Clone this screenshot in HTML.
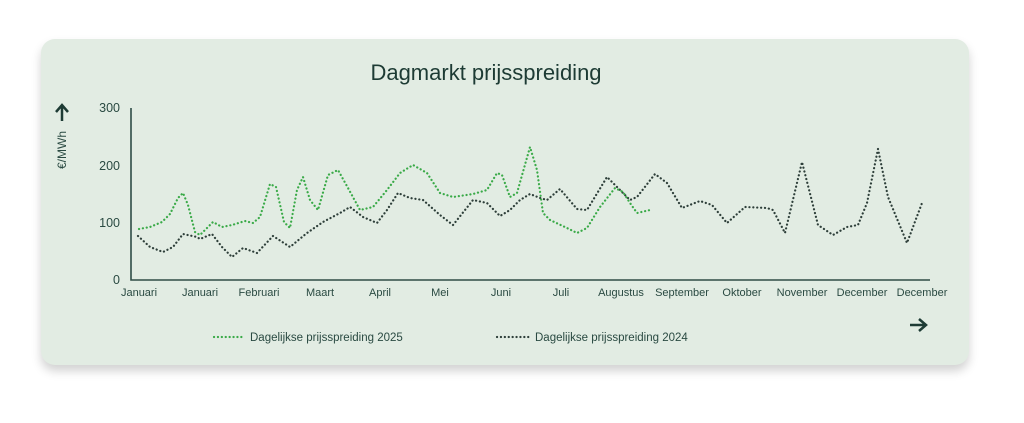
<!DOCTYPE html><html><head><style>
body{margin:0;background:#fff;width:1024px;height:423px;overflow:hidden;font-family:"Liberation Sans",sans-serif}
.card{position:absolute;left:41px;top:39px;width:928px;height:326px;background:#e2ece3;border-radius:14px;box-shadow:0 6px 10px rgba(0,0,0,0.18)}
</style></head><body><div class="card"></div>
<svg width="1024" height="423" style="position:absolute;left:0;top:0" font-family="Liberation Sans, sans-serif">
<text x="486" y="80" text-anchor="middle" font-size="22" fill="#1d3b34">Dagmarkt prijsspreiding</text>
<text transform="translate(66,150) rotate(-90)" text-anchor="middle" font-size="12" fill="#2a4a42">€/MWh</text>
<path d="M62 121V106M56 112L62 105L68 112" stroke="#1d3b34" stroke-width="2.5" fill="none"/>
<path d="M910 325H925M919 319L926 325L919 331" stroke="#1d3b34" stroke-width="2.5" fill="none"/>
<g font-size="12.5" fill="#2a4a42" text-anchor="end"><text x="120" y="112">300</text><text x="120" y="170">200</text><text x="120" y="227">100</text><text x="120" y="284">0</text></g>
<path d="M131 108V280H930" stroke="#2f4d46" stroke-width="1.6" fill="none"/>
<g font-size="11" fill="#2a4a42" text-anchor="middle"><text x="139" y="296">Januari</text><text x="200" y="296">Januari</text><text x="259" y="296">Februari</text><text x="320" y="296">Maart</text><text x="380" y="296">April</text><text x="440" y="296">Mei</text><text x="501" y="296">Juni</text><text x="561" y="296">Juli</text><text x="621" y="296">Augustus</text><text x="682" y="296">September</text><text x="742" y="296">Oktober</text><text x="802" y="296">November</text><text x="862" y="296">December</text><text x="922" y="296">December</text></g>
<g fill="none" stroke-width="2.2" stroke-linecap="round" stroke-linejoin="round" stroke-dasharray="0.1 3.8">
<polyline stroke="#2e3f3a" points="138,236 150,247 163,252 173,247 183,234 197,237 200,239 212,234 222,247 232,257 243,248 257,253 273,236 290,247 307,233 323,222 340,213 350,207 363,217 377,223 387,210 398,193 410,198 423,200 440,215 453,225 473,200 487,203 500,216 510,210 520,200 530,194 540,198 547,200 560,189 577,209 587,210 607,177 617,187 630,200 637,197 655,174 667,183 682,208 700,201 712,205 727,223 745,207 767,208 773,210 785,233 802,162 818,225 833,235 847,227 858,225 867,203 878,149 888,197 907,243 922,203"/>
<polyline stroke="#3aaa48" points="139,229 150,227 162,222 170,214 178,198 183,193 188,205 195,232 200,235 213,222 222,227 232,225 245,221 253,223 260,217 270,184 276,187 284,222 290,228 297,190 303,177 310,200 318,210 328,175 338,170 348,188 360,210 373,207 387,190 400,173 413,165 427,173 440,193 453,197 473,194 487,190 497,173 502,175 510,197 517,193 530,147 537,170 543,213 550,220 567,228 577,233 587,228 600,207 615,188 623,192 630,203 637,213 650,210"/>
<line x1="214" y1="337" x2="245" y2="337" stroke="#3aaa48"/>
<line x1="497" y1="337" x2="530" y2="337" stroke="#2e3f3a"/>
</g>
<g font-size="11.5" fill="#2a4a42"><text x="250" y="341">Dagelijkse prijsspreiding 2025</text><text x="535" y="341">Dagelijkse prijsspreiding 2024</text></g>
</svg></body></html>
